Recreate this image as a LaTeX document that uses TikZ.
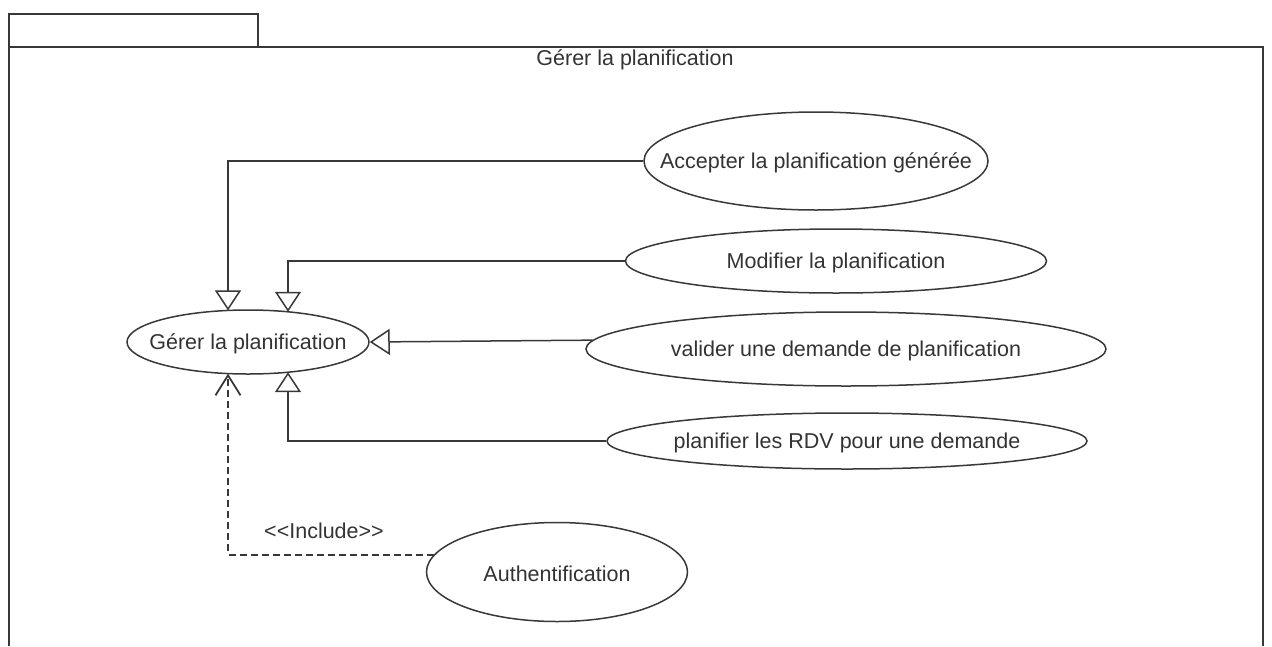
\documentclass[tikz,border=0pt]{standalone}
\usepackage{fontspec}
\setmainfont{Liberation Sans}
\usetikzlibrary{shapes.geometric,arrows.meta,calc}
\definecolor{ink}{HTML}{383838}
\definecolor{txt}{HTML}{333333}
\begin{document}
\begin{tikzpicture}[x=1pt,y=-1pt,
  lbl/.style={text=txt,inner sep=0pt,font=\fontsize{21.5}{26}\selectfont},
  uc/.style={ellipse,draw=ink,line width=1.5pt,inner sep=0pt,label={[lbl,yshift=-1.5pt]center:#1}},
  gen/.style={draw=ink,line width=1.5pt,-{Triangle[open,length=20pt,width=26pt,fill=white]}},
  incl/.style={draw=ink,line width=1.8pt,dash pattern=on 7pt off 4pt,-{Straight Barb[length=20pt,width=25pt]}},
  frame/.style={draw=ink,line width=1.6pt},
]
\useasboundingbox (0,0) rectangle (1272,646);

% package frame with its tab
\draw[frame] (9,14) rectangle (258,47);
\draw[frame] (9,646) -- (9,47) -- (1263,47) -- (1263,646);
\node[lbl] (title) at (635,60) {Gérer la planification};

% use cases (fixed ellipse sizes, text centred inside)
\node[uc={Accepter la planification générée},minimum width=344pt,minimum height=98pt] (acc) at (816,161) {};
\node[uc={Modifier la planification},minimum width=421pt,minimum height=64pt] (mod) at (836,261) {};
\node[uc={valider une demande de planification},minimum width=520pt,minimum height=74pt] (val) at (846,349) {};
\node[uc={planifier les RDV pour une demande},minimum width=480pt,minimum height=56pt] (pla) at (847,441) {};
\node[uc={Authentification},minimum width=261pt,minimum height=99pt] (auth) at (557,572) {};
\node[uc={Gérer la planification},minimum width=242pt,minimum height=64pt] (ger) at (248,342) {};

% attachment points on the border of the general use case
\coordinate (gA) at ($(ger.center)+(-20,-31.6)$);
\coordinate (gB) at ($(ger.center)+(40,-30.2)$);
\coordinate (gC) at ($(ger.center)+(40,30.2)$);
\coordinate (gD) at ($(ger.center)+(-20,31.6)$);

% generalisations
\draw[gen] (acc.west) -| (gA);
\draw[gen] (mod.west) -| (gB);
\draw[gen] (val.178.4) -- (ger.east);
\draw[gen] (pla.west) -| (gC);

% include dependency
\draw[incl] (auth.172.1) -| (gD);
\node[lbl] (inc) at (324,531) {<{}<Include>{}>};
\end{tikzpicture}
\end{document}
